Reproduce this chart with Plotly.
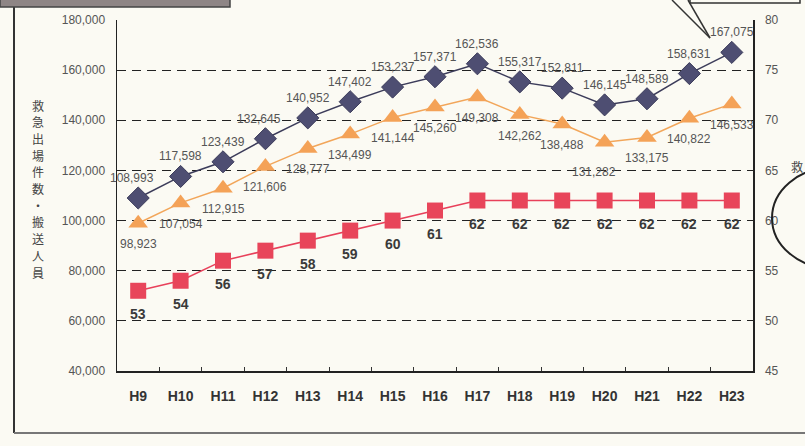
import plotly.graph_objects as go

years = ["H9", "H10", "H11", "H12", "H13", "H14", "H15", "H16", "H17",
         "H18", "H19", "H20", "H21", "H22", "H23"]
dispatches = [108993, 117598, 123439, 132645, 140952, 147402, 153237, 157371,
              162536, 155317, 152811, 146145, 148589, 158631, 167075]
transported = [98923, 107054, 112915, 121606, 128777, 134499, 141144, 145260,
               149308, 142262, 138488, 131282, 133175, 140822, 146533]
ambulances = [53, 54, 56, 57, 58, 59, 60, 61, 62, 62, 62, 62, 62, 62, 62]

left_ticks = [40000, 60000, 80000, 100000, 120000, 140000, 160000, 180000]
right_ticks = [45, 50, 55, 60, 65, 70, 75, 80]
y_title = "救急出場件数・搬送人員"

W, H = 805, 446
L, R, T, B = 117, 52, 20, 75
PW, PH = W - L - R, H - T - B


def px(x):
    return (x - L) / PW


def py(y):
    return (H - B - y) / PH


BG = "#fbfaf3"
FONT = "Liberation Sans, Arial, sans-serif"
label_font = dict(family=FONT, size=12, color="#555")

fig = go.Figure()
fig.add_trace(go.Scatter(
    x=years, y=dispatches, mode="lines+markers",
    line=dict(color="#3c3c5a", width=1.5),
    marker=dict(symbol="diamond", size=17, color="#4e4e72", line=dict(color="#3c3c5a", width=1)),
    yaxis="y", showlegend=False, cliponaxis=False, hoverinfo="skip",
))
fig.add_trace(go.Scatter(
    x=years, y=transported, mode="lines+markers",
    line=dict(color="#f2a65a", width=1.5),
    marker=dict(symbol="triangle-up", size=17, color="#f4a257"),
    yaxis="y", showlegend=False, cliponaxis=False, hoverinfo="skip",
))
fig.add_trace(go.Scatter(
    x=years, y=ambulances, mode="lines+markers",
    line=dict(color="#e8405a", width=1.5),
    marker=dict(symbol="square", size=16, color="#e8455a"),
    yaxis="y2", showlegend=False, cliponaxis=False, hoverinfo="skip",
))

annotations = []
nav_dx = {0: -6, 3: -6}
org_dx = {11: -11}
for i, c in enumerate(years):
    annotations.append(dict(x=c, y=dispatches[i], xref="x", yref="y", text=f"{dispatches[i]:,}",
                            showarrow=False, yshift=20, xshift=nav_dx.get(i, 0), font=label_font))
    annotations.append(dict(x=c, y=transported[i], xref="x", yref="y", text=f"{transported[i]:,}",
                            showarrow=False, yshift=-21 if i != 11 else -30, xshift=org_dx.get(i, 0),
                            font=label_font))
    annotations.append(dict(x=c, y=ambulances[i], xref="x", yref="y2", text=str(ambulances[i]),
                            showarrow=False, yshift=-23,
                            font=dict(family=FONT, size=14, color="#3a3a3a", weight="bold")))

# vertical axis title, one character per line
n = len(y_title)
for k, ch in enumerate(y_title):
    cy = 105 + k * (272 - 105) / (n - 1)
    annotations.append(dict(text=ch, xref="paper", yref="paper", x=px(38), y=py(cy),
                            xanchor="center", yanchor="middle", showarrow=False,
                            font=dict(family="Noto Sans CJK JP", size=12, color="#444")))

annotations.append(dict(text="救", xref="paper", yref="paper", x=px(789), y=py(166),
                        xanchor="left", yanchor="middle", showarrow=False,
                        font=dict(family="Noto Sans CJK JP", size=12, color="#444")))

fig.update_layout(
    width=W, height=H,
    margin=dict(l=L, r=R, t=T, b=B),
    paper_bgcolor=BG, plot_bgcolor=BG,
    hovermode=False,
    xaxis=dict(
        type="category", range=[-0.5, 14.5], showgrid=False,
        showline=True, linecolor="#222", linewidth=1.5,
        ticks="inside", ticklen=4, tickcolor="#333", tickson="boundaries",
        tickfont=dict(family=FONT, size=14, color="#333", weight="bold"),
        ticklabelstandoff=12,
    ),
    yaxis=dict(
        range=[40000, 180000], tickvals=left_ticks,
        ticktext=[f"{v:,}" for v in left_ticks],
        showgrid=True, gridcolor="#222", griddash="9px,6px", gridwidth=1,
        showline=True, linecolor="#222", linewidth=1.5,
        zeroline=False, ticks="",
        tickfont=dict(family=FONT, size=12, color="#555"),
        ticklabelstandoff=8,
    ),
    yaxis2=dict(
        range=[45, 80], tickvals=right_ticks, overlaying="y", side="right",
        showgrid=False, showline=True, linecolor="#222", linewidth=1.5,
        zeroline=False, ticks="",
        tickfont=dict(family=FONT, size=12, color="#555"),
        ticklabelstandoff=8,
    ),
    annotations=annotations,
    shapes=[
        dict(type="line", xref="paper", yref="paper", x0=px(14), x1=px(14), y0=py(7), y1=py(433),
             line=dict(color="#333", width=2)),
        dict(type="line", xref="paper", yref="paper", x0=px(14), x1=px(805), y0=py(433), y1=py(433),
             line=dict(color="#777", width=2)),
        dict(type="rect", xref="paper", yref="paper", x0=px(0), x1=px(230), y0=py(-2), y1=py(7),
             fillcolor="#8e8585", line=dict(color="#444", width=1.5)),
        dict(type="rect", xref="paper", yref="paper", x0=px(690), x1=px(800), y0=py(-4), y1=py(3),
             fillcolor=BG, line=dict(color="#333", width=1.5)),
        dict(type="line", xref="paper", yref="paper", x0=px(672), x1=px(710), y0=py(0), y1=py(38),
             line=dict(color="#333", width=1.5)),
        dict(type="line", xref="paper", yref="paper", x0=px(688), x1=px(710), y0=py(0), y1=py(38),
             line=dict(color="#333", width=1.5)),
        dict(type="circle", xref="paper", yref="paper", x0=px(772), x1=px(890), y0=py(168), y1=py(268),
             line=dict(color="#222", width=2)),
    ],
)

post = ("document.body.style.margin='0';document.body.style.padding='0';"
        "document.body.style.background='%s';document.documentElement.style.overflow='hidden';" % BG)
fig.write_html("out.html", post_script=post, config={"displayModeBar": False, "staticPlot": True})
